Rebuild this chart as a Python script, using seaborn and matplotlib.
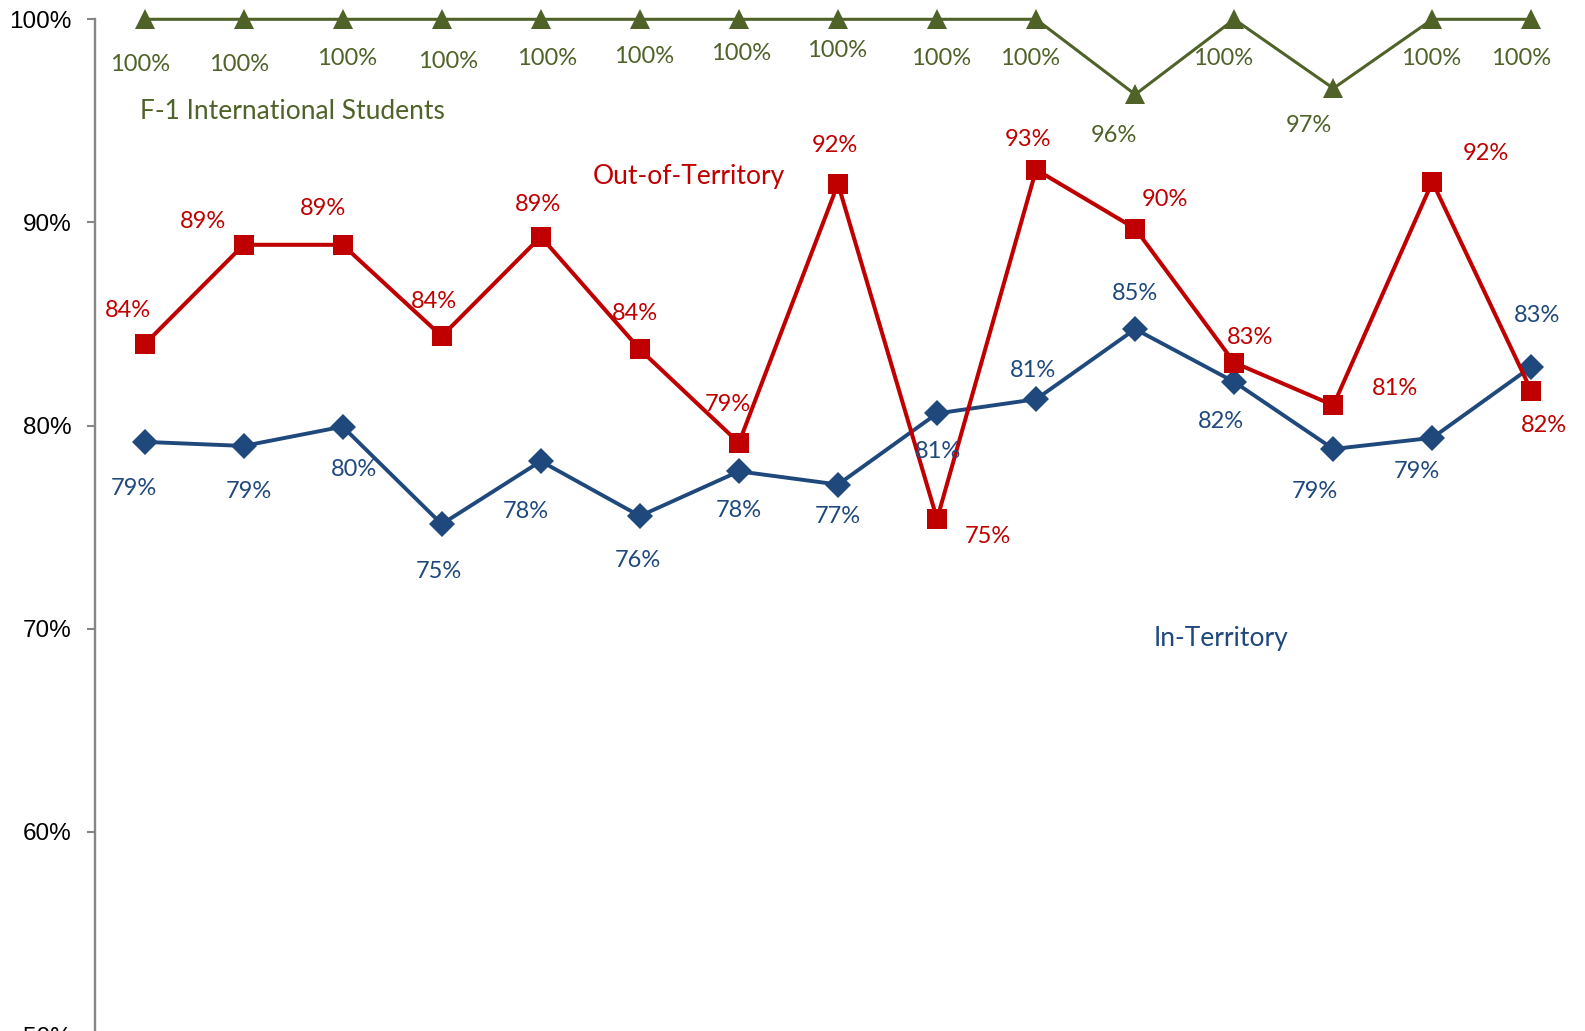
import matplotlib
matplotlib.use("Agg")
import matplotlib.pyplot as plt
import seaborn as sns
import pandas as pd
from matplotlib.ticker import FuncFormatter

# ---- data -------------------------------------------------------------
periods = list(range(15))
in_territory = [79.2, 79.0, 79.95, 75.15, 78.25, 75.55, 77.75, 77.1, 80.6, 81.3,
                84.75, 82.15, 78.85, 79.4, 82.9]
out_of_territory = [84.0, 88.9, 88.9, 84.4, 89.3, 83.75, 79.15, 91.9, 75.4, 92.6,
                    89.7, 83.1, 81.0, 92.0, 81.7]
f1_international = [100, 100, 100, 100, 100, 100, 100, 100, 100, 100,
                    96.3, 100, 96.6, 100, 100]
y_ticks = [50, 60, 70, 80, 90, 100]

# label offsets in pixels (dx, dy) relative to each point
f1_offsets = [(-4, -42), (-4, -42), (4, -36), (6, -39), (6, -36), (4, -34), (2, -31),
              (-1, -28), (4, -36), (-6, -36), (-21, -38), (-11, -36), (-24, -34),
              (-1, -36), (-10, -36)]
out_offsets = [(-16, 36), (-40, 26), (-19, 39), (-8, 37), (-3, 35), (-5, 39), (-11, 41),
               (-3, 41), (50, -14), (-8, 33), (29, 32), (16, 28), (61, 20), (53, 31),
               (12, -31)]
in_offsets = [(-11, -43), (5, -42), (11, -39), (-3, -44), (-15, -47), (-2, -41), (0, -36),
              (0, -29), (1, -35), (-3, 31), (0, 38), (-13, -36), (-18, -39), (-15, -30),
              (6, 54)]

GREEN = "#4F6228"
RED = "#C00000"
BLUE = "#1F497D"
SPINE = "#868686"

sns.set_theme(style="white")
plt.rcParams["font.family"] = ["Lato", "DejaVu Sans"]

W, H = 1585, 1031
fig = plt.figure(figsize=(W / 100, H / 100), dpi=100)
top_px, bottom_px, left_px, right_px = 19.3, 1035.1, 95, 1581
ax = fig.add_axes([left_px / W, (H - bottom_px) / H,
                   (right_px - left_px) / W, (bottom_px - top_px) / H])

df = pd.DataFrame({"period": periods, "in": in_territory,
                   "out": out_of_territory, "f1": f1_international})

sns.lineplot(data=df, x="period", y="in", ax=ax, color=BLUE, linewidth=2.8,
             marker="D", markersize=13, markeredgewidth=0, clip_on=False, zorder=3)
sns.lineplot(data=df, x="period", y="out", ax=ax, color=RED, linewidth=2.9,
             marker="s", markersize=13.7, markeredgewidth=0, clip_on=False, zorder=3)
sns.lineplot(data=df, x="period", y="f1", ax=ax, color=GREEN, linewidth=2.2,
             marker="^", markersize=13.7, markeredgewidth=0, clip_on=False, zorder=3)

label_font = 17
name_font = 19
text_drop = 3  # pixels, lowers every label slightly below its anchor

def add_labels(values, offsets, color):
    for x, v, (dx, dy) in zip(periods, values, offsets):
        ax.annotate(f"{v:.0f}%", xy=(x, v), xytext=(dx * 1.01, dy * 1.01 - text_drop),
                    textcoords="offset pixels", ha="center", va="center",
                    color=color, fontsize=label_font, annotation_clip=False)

add_labels(f1_international, f1_offsets, GREEN)
add_labels(out_of_territory, out_offsets, RED)
add_labels(in_territory, in_offsets, BLUE)

series_names = [("F-1 International Students", -0.05, 95.59, GREEN, "left"),
                ("Out-of-Territory", 5.49, 92.39, RED, "center"),
                ("In-Territory", 10.87, 69.65, BLUE, "center")]
for name, nx, ny, col, align in series_names:
    ax.annotate(name, xy=(nx, ny), xytext=(0, -text_drop), textcoords="offset pixels",
                color=col, fontsize=name_font, ha=align, va="center",
                annotation_clip=False)

ax.set_xlim(-0.5, 14.5)
ax.set_ylim(50, 100)
ax.set_yticks(y_ticks)
ax.yaxis.set_major_formatter(FuncFormatter(lambda v, _: f"{v:.0f}%"))
ax.set_xticks([])
ax.set_xlabel("")
ax.set_ylabel("")

for side in ("top", "right", "bottom"):
    ax.spines[side].set_visible(False)
ax.spines["left"].set_color(SPINE)
ax.spines["left"].set_linewidth(1.7)
ax.tick_params(axis="y", which="major", left=True, length=6, width=1.5,
               color=SPINE, pad=11, labelsize=17.5, labelcolor="black")
for lbl in ax.get_yticklabels():
    lbl.set_family(["Liberation Sans", "DejaVu Sans"])
ax.grid(False)

fig.savefig("out.png", dpi=100)
